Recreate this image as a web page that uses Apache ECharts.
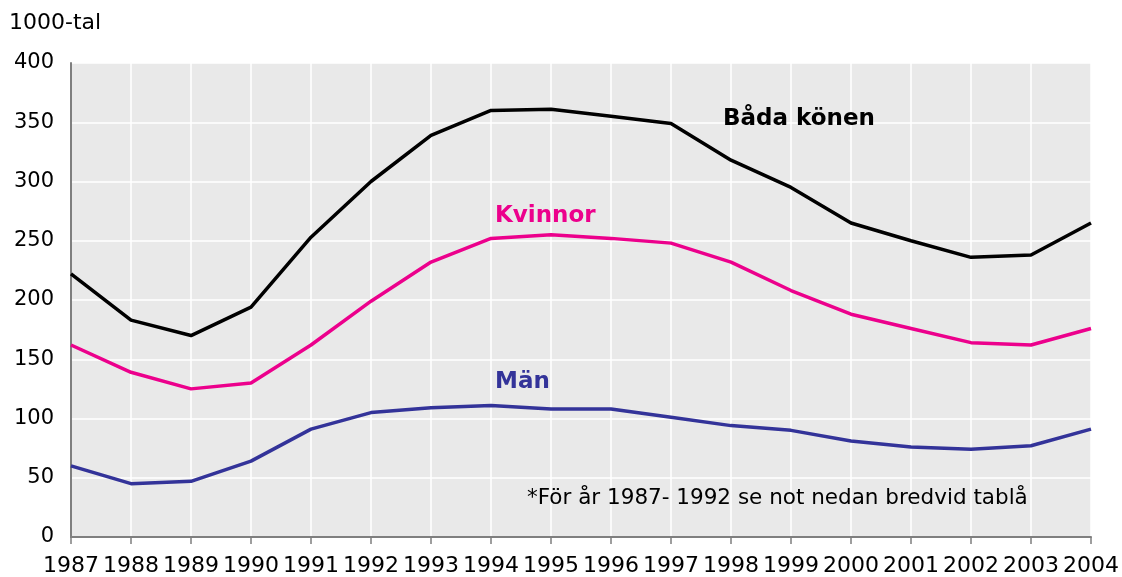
<!DOCTYPE html>
<html>
<head>
<meta charset="utf-8">
<script src="https://cdn.jsdelivr.net/npm/echarts@6/dist/echarts.min.js"></script>
<style>
  html, body { margin: 0; padding: 0; background: #fff; }
  #chart { width: 1122px; height: 577px; }
</style>
</head>
<body>
<div id="chart"></div>
<script>
// År
const years = ['1987', '1988', '1989', '1990', '1991', '1992', '1993', '1994', '1995',
  '1996', '1997', '1998', '1999', '2000', '2001', '2002', '2003', '2004'];
// 1000-tal
const badaKonen = [222, 183, 170, 194, 253, 300, 339, 360, 361, 355, 349, 318, 295, 265, 250, 236, 238, 265];
const kvinnor = [162, 139, 125, 130, 162, 199, 232, 252, 255, 252, 248, 232, 208, 188, 176, 164, 162, 176];
const man = [60, 45, 47, 64, 91, 105, 109, 111, 108, 108, 101, 94, 90, 81, 76, 74, 77, 91];
const yTicks = [0, 50, 100, 150, 200, 250, 300, 350, 400];

const font = '"DejaVu Sans", Verdana, sans-serif';
const chart = echarts.init(document.getElementById('chart'));

const lineSeries = (name, data, color) => ({
  name,
  type: 'line',
  data,
  symbol: 'none',
  animation: false,
  lineStyle: { color, width: 3.5 },
  itemStyle: { color }
});

// textetiketter i diagrammet
const label = (text, x, y, color, size, bold) => ({
  type: 'text',
  x, y,
  z: 100,
  style: {
    text,
    fill: color,
    font: (bold ? 'bold ' : '') + size + 'px ' + font,
    verticalAlign: 'middle'
  }
});

chart.setOption({
  backgroundColor: '#fff',
  grid: { left: 71, right: 30, top: 63, bottom: 39, show: true, backgroundColor: '#e9e9e9', borderWidth: 0 },
  xAxis: {
    type: 'category',
    data: years,
    boundaryGap: false,
    axisLine: { lineStyle: { color: '#7f7f7f', width: 2 } },
    axisTick: { show: true, length: 7, lineStyle: { color: '#7f7f7f', width: 1.5 } },
    axisLabel: { color: '#000', fontFamily: font, fontSize: 22, margin: 18, interval: 0 },
    splitLine: { show: true, lineStyle: { color: '#ffffff', width: 1.5 } }
  },
  yAxis: {
    type: 'value',
    min: yTicks[0],
    max: yTicks[yTicks.length - 1],
    interval: 50,
    axisLine: { show: true, lineStyle: { color: '#7f7f7f', width: 2 } },
    axisTick: { show: false },
    axisLabel: { color: '#000', fontFamily: font, fontSize: 21, margin: 17 },
    splitLine: { show: true, lineStyle: { color: '#ffffff', width: 1.5 } }
  },
  series: [
    lineSeries('Båda könen', badaKonen, '#000000'),
    lineSeries('Kvinnor', kvinnor, '#ec008c'),
    lineSeries('Män', man, '#333399')
  ],
  graphic: [
    label('1000-tal', 9, 23, '#000', 22, false),
    label('Båda könen', 723, 119, '#000', 23, true),
    label('Kvinnor', 495, 216, '#ec008c', 23, true),
    label('Män', 495, 382, '#333399', 23, true),
    label('*För år 1987- 1992 se not nedan bredvid tablå', 527, 498, '#000', 21.5, false)
  ]
});
</script>
</body>
</html>
